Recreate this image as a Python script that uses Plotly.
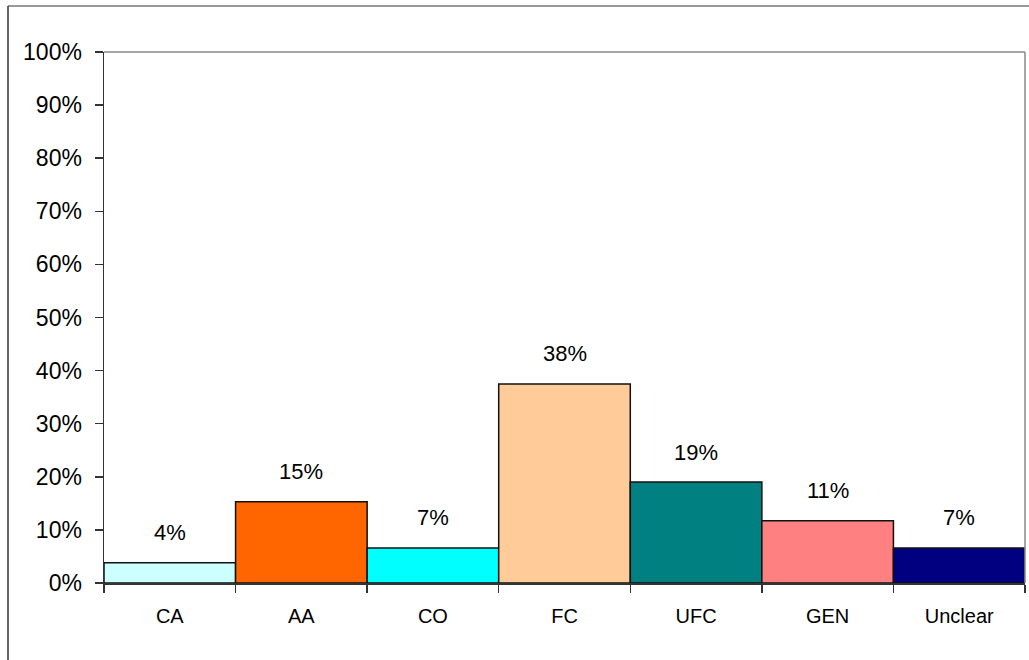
import plotly.graph_objects as go

categories = ["CA", "AA", "CO", "FC", "UFC", "GEN", "Unclear"]
values = [3.8, 15.3, 6.6, 37.5, 19.0, 11.7, 6.6]
labels = ["4%", "15%", "7%", "38%", "19%", "11%", "7%"]
colors = ["#CCFFFF", "#FF6600", "#00FFFF", "#FFCC99", "#008080", "#FF8080", "#000080"]
yticks = list(range(0, 101, 10))
yticklabels = [f"{v}%" for v in yticks]

FONT = "Liberation Sans, Arial, sans-serif"

fig = go.Figure()
fig.add_trace(go.Bar(
    x=categories, y=values,
    marker=dict(color=colors, line=dict(color="#111111", width=1.5)),
    hoverinfo="skip",
))

for c, v, t in zip(categories, values, labels):
    fig.add_annotation(x=c, y=v, text=t, showarrow=False, yshift=30,
                       font=dict(family=FONT, size=22, color="#000000"))

# plot-area frame (top and right, gray)
fig.add_shape(type="line", xref="paper", yref="paper", x0=0, x1=1, y0=1, y1=1,
              line=dict(color="#888888", width=1.5))
fig.add_shape(type="line", xref="paper", yref="paper", x0=1, x1=1, y0=0, y1=1,
              line=dict(color="#888888", width=1.5))
# outer chart border (top and left)
W = 921.0
H = 531.0
fig.add_shape(type="line", xref="paper", yref="paper",
              x0=-(104 - 8) / W, x1=(1029 - 104) / W, y0=(583 - 6) / H, y1=(583 - 6) / H,
              line=dict(color="#777777", width=1.5))
fig.add_shape(type="line", xref="paper", yref="paper",
              x0=-(104 - 8) / W, x1=-(104 - 8) / W, y0=(583 - 6) / H, y1=-(660 - 583) / H,
              line=dict(color="#333333", width=1.5))

fig.update_layout(
    width=1029, height=660,
    margin=dict(l=104, r=4, t=52, b=77),
    paper_bgcolor="white", plot_bgcolor="white",
    bargap=0, showlegend=False,
    font=dict(family=FONT, color="#000000"),
)
fig.update_xaxes(
    showgrid=False, showline=True, linecolor="#333333", linewidth=1.5,
    ticks="outside", ticklen=8, tickcolor="#333333", tickwidth=1.5,
    tickson="boundaries",
    tickfont=dict(family=FONT, size=20, color="#000000"),
    ticklabelstandoff=14,
)
fig.update_yaxes(
    range=[0, 100], tickvals=yticks, ticktext=yticklabels,
    showgrid=False, showline=True, linecolor="#333333", linewidth=1.5,
    ticks="outside", ticklen=8, tickcolor="#333333", tickwidth=1.5,
    tickfont=dict(family=FONT, size=23, color="#000000"),
    ticklabelstandoff=8,
    zeroline=False,
)

fig.write_html("out.html", config={"displayModeBar": False, "staticPlot": True},
               post_script="document.body.style.margin='0';document.body.style.overflow='hidden';")
